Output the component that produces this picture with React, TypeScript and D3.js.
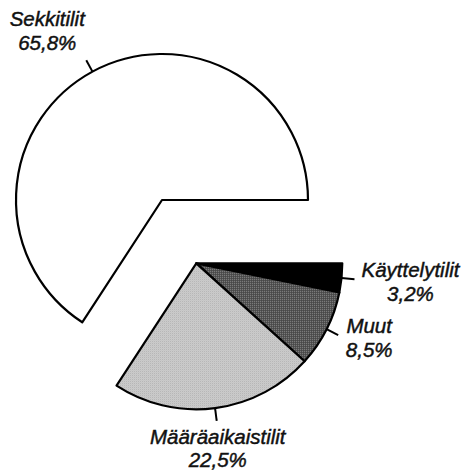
import React from "react";
import * as d3 from "d3";

const categories = ["Käyttelytilit", "Muut", "Määräaikaistilit", "Sekkitilit"];
const values = [3.2, 8.5, 22.5, 65.8];
const valueLabels = ["3,2%", "8,5%", "22,5%", "65,8%"];
const fills = ["#000000", "url(#darkDots)", "url(#lightDots)", "#ffffff"];
const exploded = [true, true, true, false];
// label offsets from tick end (layout)
const labelOffsets: [number, number][] = [
  [56, -2],
  [31, -2],
  [1, 23],
  [-39, -34],
];

const W = 465;
const H = 474;
const cx = 162;
const cy = 200;
const R = 146;
const explode = 72;
const tickLen = 13;

export default function App() {
  const data = categories.map((c, i) => ({ c, v: values[i], i }));
  const pie = d3
    .pie<any>()
    .sort(null)
    .value((d) => d.v)
    .startAngle(Math.PI / 2)
    .endAngle(Math.PI / 2 + 2 * Math.PI);
  const arcs = pie(data);
  const arc = d3.arc<any>().innerRadius(0).outerRadius(R);

  const groupArcs = arcs.filter((a) => exploded[a.index]);
  const gStart = d3.min(groupArcs, (a) => a.startAngle)!;
  const gEnd = d3.max(groupArcs, (a) => a.endAngle)!;
  const gMid = (gStart + gEnd) / 2;
  const ox = Math.sin(gMid) * explode;
  const oy = -Math.cos(gMid) * explode;

  const textProps = {
    textAnchor: "middle" as const,
    fontFamily: "'Liberation Sans', Arial, sans-serif",
    fontStyle: "italic",
    fontSize: 20.5,
    fill: "#111",
    stroke: "#111",
    strokeWidth: 0.45,
  };

  return (
    <svg
      width={W}
      height={H}
      style={{ position: "absolute", left: 0, top: 0, background: "#fff" }}
    >
      <defs>
        <pattern id="lightDots" width="2" height="2" patternUnits="userSpaceOnUse">
          <rect width="2" height="2" fill="#ececec" />
          <rect x="0" y="0" width="1" height="1" fill="#8a8a8a" />
          <rect x="1" y="1" width="1" height="1" fill="#b0b0b0" />
        </pattern>
        <pattern id="darkDots" width="2" height="2" patternUnits="userSpaceOnUse">
          <rect width="2" height="2" fill="#2a2a2a" />
          <rect x="0" y="0" width="1" height="1" fill="#c8c8c8" />
          <rect x="1" y="1" width="1" height="1" fill="#4a4a4a" />
        </pattern>
      </defs>
      {arcs.map((a) => {
        const isEx = exploded[a.index];
        const tx = cx + (isEx ? ox : 0);
        const ty = cy + (isEx ? oy : 0);
        return (
          <path
            key={a.index}
            d={arc(a) as string}
            transform={`translate(${tx},${ty})`}
            fill={fills[a.index]}
            stroke="#000"
            strokeWidth={2.2}
            strokeLinejoin="round"
          />
        );
      })}
      {arcs.map((a) => {
        const isEx = exploded[a.index];
        const tx = cx + (isEx ? ox : 0);
        const ty = cy + (isEx ? oy : 0);
        const m = (a.startAngle + a.endAngle) / 2;
        const x1 = tx + Math.sin(m) * R;
        const y1 = ty - Math.cos(m) * R;
        const x2 = tx + Math.sin(m) * (R + tickLen);
        const y2 = ty - Math.cos(m) * (R + tickLen);
        const [dx, dy] = labelOffsets[a.index];
        const lx = x2 + dx;
        const ly = y2 + dy;
        return (
          <g key={"l" + a.index}>
            <line x1={x1} y1={y1} x2={x2} y2={y2} stroke="#000" strokeWidth={2} />
            <text x={lx} y={ly} {...textProps}>
              {categories[a.index]}
            </text>
            <text x={lx} y={ly + 23.5} {...textProps}>
              {valueLabels[a.index]}
            </text>
          </g>
        );
      })}
    </svg>
  );
}
